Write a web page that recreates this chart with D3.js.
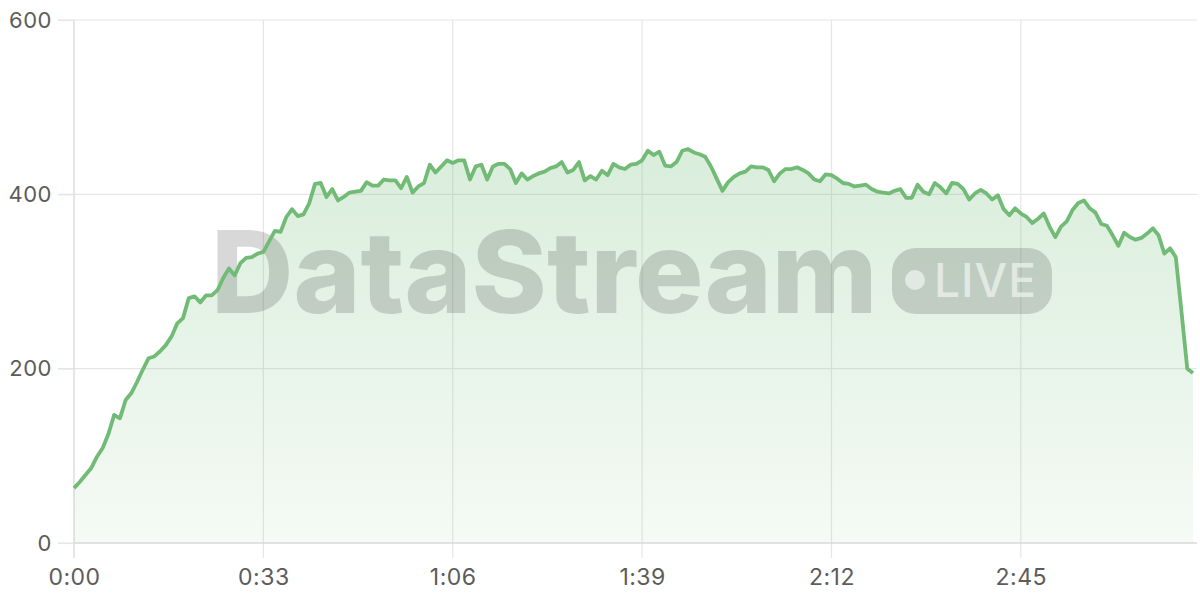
<!DOCTYPE html>
<html>
<head>
<meta charset="utf-8">
<script src="https://cdn.jsdelivr.net/npm/d3@7"></script>
<style>
    body { margin: 0; background: #fff; }
    svg { display: block; font-family: Inter, "Noto Sans", sans-serif; }
</style>
</head>
<body>
<div id="stream-chart"></div>
<script>
// one reading per second, starting at 0:00
var streamValues = [
    63, 70, 78, 86, 99, 109, 125, 147, 143, 164,
    172, 185, 199, 212, 214, 220, 227, 237, 252, 258,
    281, 283, 276, 284, 284, 290, 304, 315, 307, 321,
    327, 328, 332, 334, 346, 358, 357, 374, 383, 375,
    377, 390, 412, 413, 397, 406, 393, 397, 402, 403,
    404, 414, 410, 410, 417, 416, 416, 407, 420, 402,
    409, 413, 434, 425, 432, 439, 436, 439, 439, 417,
    432, 434, 417, 432, 435, 435, 429, 413, 424, 417,
    421, 424, 426, 430, 432, 437, 425, 428, 437, 416,
    421, 417, 427, 422, 435, 431, 429, 434, 435, 439,
    450, 445, 449, 433, 432, 437, 450, 452, 448, 446,
    443, 432, 418, 404, 414, 420, 424, 426, 432, 431,
    431, 428, 415, 424, 429, 429, 431, 428, 424, 417,
    415, 423, 422, 418, 413, 412, 409, 410, 411, 406,
    403, 402, 401, 404, 406, 396, 396, 411, 403, 400,
    413, 408, 401, 413, 412, 406, 394, 401, 405, 401,
    394, 399, 383, 376, 384, 378, 374, 367, 372, 378,
    363, 351, 363, 369, 382, 390, 393, 384, 379, 366,
    364, 353, 341, 356, 351, 348, 350, 355, 361, 353,
    332, 338, 328, 265, 200, 195
];

var yTickValues = [0, 200, 400, 600];
var xTickSeconds = [0, 33, 66, 99, 132, 165];
var xTickLabels = ["0:00", "0:33", "1:06", "1:39", "2:12", "2:45"];

var margin = {top: 20, right: 7, bottom: 57, left: 74};
var width = 1200 - margin.left - margin.right,
    height = 600 - margin.top - margin.bottom;

var svg = d3.select("#stream-chart").append("svg")
    .attr("width", 1200)
    .attr("height", 600);

var defs = svg.append("defs");
var grad = defs.append("linearGradient")
    .attr("id", "stream-fill")
    .attr("gradientUnits", "userSpaceOnUse")
    .attr("x1", 0).attr("x2", 0)
    .attr("y1", 0).attr("y2", height);
grad.append("stop").attr("offset", "0%").attr("stop-color", "#6dbb74").attr("stop-opacity", 0.32);
grad.append("stop").attr("offset", "100%").attr("stop-color", "#6dbb74").attr("stop-opacity", 0.07);

var g = svg.append("g")
    .attr("transform", "translate(" + margin.left + "," + margin.top + ")");

var x = d3.scaleLinear()
    .domain([0, streamValues.length - 1])
    .range([0, width]);

var y = d3.scaleLinear()
    .domain([0, 600])
    .range([height, 0]);

// grid, drawn first so everything sits on top
g.append("g").attr("class", "grid-y")
    .selectAll("line")
    .data(yTickValues)
    .enter().append("line")
    .attr("x1", -16)
    .attr("x2", width + 4)
    .attr("y1", function (d) { return y(d); })
    .attr("y2", function (d) { return y(d); })
    .attr("stroke", "#e6e6e6")
    .attr("stroke-width", 1.2);

g.append("g").attr("class", "grid-x")
    .selectAll("line")
    .data(xTickSeconds)
    .enter().append("line")
    .attr("x1", function (d) { return x(d); })
    .attr("x2", function (d) { return x(d); })
    .attr("y1", 0)
    .attr("y2", height + 15)
    .attr("stroke", function (d) { return d === 0 ? "#d4d4d4" : "#e6e6e6"; })
    .attr("stroke-width", 1.2);

// area + line
var area = d3.area()
    .x(function (d, i) { return x(i); })
    .y0(height)
    .y1(function (d) { return y(d); });

var line = d3.line()
    .x(function (d, i) { return x(i); })
    .y(function (d) { return y(d); });

g.append("path")
    .datum(streamValues)
    .attr("fill", "url(#stream-fill)")
    .attr("d", area);

// watermark
var wm = g.append("g")
    .attr("class", "watermark")
    .attr("opacity", 0.15);

wm.append("text")
    .attr("x", 137)
    .attr("y", 293)
    .attr("font-size", 114)
    .attr("font-weight", 800)
    .attr("letter-spacing", 0)
    .attr("fill", "#000")
    .text("DataStream");

wm.append("rect")
    .attr("x", 818)
    .attr("y", 228)
    .attr("width", 160)
    .attr("height", 66)
    .attr("rx", 24)
    .attr("fill", "#000");

var live = g.append("g")
    .attr("class", "watermark-live")
    .attr("fill", "#fff")
    .attr("opacity", 0.55);

live.append("circle")
    .attr("cx", 841)
    .attr("cy", 260)
    .attr("r", 10);

live.append("text")
    .attr("x", 860)
    .attr("y", 277)
    .attr("font-size", 46)
    .attr("font-weight", 500)
    .attr("letter-spacing", 1)
    .text("LIVE");

g.append("path")
    .datum(streamValues)
    .attr("fill", "none")
    .attr("stroke", "#72bb76")
    .attr("stroke-width", 3.8)
    .attr("stroke-linejoin", "round")
    .attr("d", line);

// axes
var yAxis = d3.axisLeft(y)
    .tickValues(yTickValues)
    .tickSize(16)
    .tickPadding(6);

var gy = g.append("g")
    .attr("class", "y-axis")
    .call(yAxis);

gy.select(".domain").remove();
gy.selectAll(".tick line").attr("stroke", "#e6e6e6").attr("stroke-width", 1.2);
gy.selectAll(".tick text")
    .attr("fill", "#5c5c5c")
    .attr("font-size", 22)
    .attr("letter-spacing", 0.5)
    .attr("font-family", "Inter, sans-serif");

var xAxis = d3.axisBottom(x)
    .tickValues(xTickSeconds)
    .tickFormat(function (d, i) { return xTickLabels[i]; })
    .tickSize(15)
    .tickPadding(11);

var gx = g.append("g")
    .attr("class", "x-axis")
    .attr("transform", "translate(0," + height + ")")
    .call(xAxis);

gx.select(".domain")
    .attr("stroke", "#d4d4d4")
    .attr("stroke-width", 1.2)
    .attr("d", "M0,0H" + (width + 4));
gx.selectAll(".tick line").remove();
gx.selectAll(".tick text")
    .attr("fill", "#5c5c5c")
    .attr("font-size", 23)
    .attr("letter-spacing", 0.5)
    .attr("font-family", "Inter, sans-serif");
</script>
</body>
</html>
